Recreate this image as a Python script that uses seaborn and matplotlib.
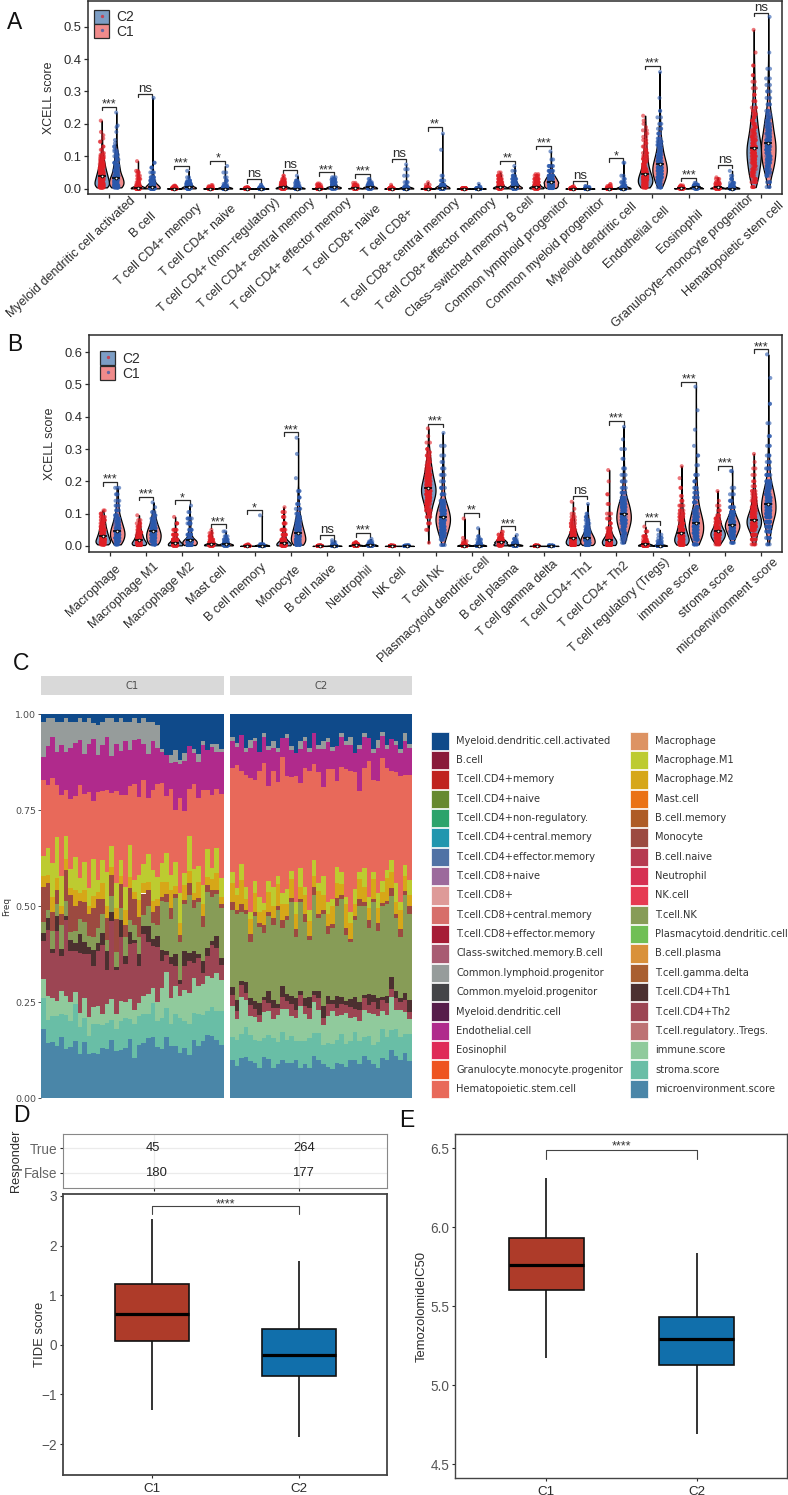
import numpy as np
import pandas as pd
import matplotlib
matplotlib.use("Agg")
import matplotlib.pyplot as plt
from matplotlib.patches import Patch
from matplotlib.lines import Line2D
from matplotlib.legend_handler import HandlerTuple
from matplotlib.textpath import TextPath
from matplotlib.font_manager import FontProperties
from matplotlib.transforms import ScaledTranslation
from matplotlib.ticker import FormatStrFormatter
import seaborn as sns

W, H = 788, 1495


def r(values, counts):
    # values, with how many dots sit around each level
    return np.repeat(values, counts).tolist()


# panel A
a_cells = ["Myeloid dendritic cell activated", "B cell", "T cell CD4+ memory", "T cell CD4+ naive",
           "T cell CD4+ (non\u2212regulatory)", "T cell CD4+ central memory", "T cell CD4+ effector memory",
           "T cell CD8+ naive", "T cell CD8+", "T cell CD8+ central memory", "T cell CD8+ effector memory",
           "Class\u2212switched memory B cell", "Common lymphoid progenitor", "Common myeloid progenitor",
           "Myeloid dendritic cell", "Endothelial cell", "Eosinophil", "Granulocyte\u2212monocyte progenitor",
           "Hematopoietic stem cell"]
a_c1 = [
    r([.004, .01, .016, .022, .028, .034, .04, .046, .052, .058, .064, .07, .076, .082, .088, .094, .1, .105, .11, .12, .13, .145, .155, .165, .175, .21],
      [16, 16, 15, 14, 13, 12, 11, 10, 9, 8, 7, 6, 6, 5, 4, 4, 3, 2, 2, 2, 2, 2, 1, 1, 1, 1]),
    r([.001, .005, .012, .02, .03, .04, .05, .055, .085], [50, 16, 10, 7, 5, 4, 3, 2, 1]),
    r([.0005, .002, .004, .006, .009], [50, 15, 8, 5, 3]),
    r([.0005, .002, .004, .007, .011], [50, 12, 6, 4, 2]),
    r([.0002, .001, .003, .005], [50, 10, 4, 2]),
    r([.001, .005, .01, .015, .02, .025, .03, .04], [40, 22, 16, 12, 9, 6, 4, 2]),
    r([.0005, .003, .007, .012, .016], [50, 12, 6, 3, 2]),
    r([.001, .004, .008, .012, .018], [40, 15, 10, 6, 2]),
    r([.0003, .002, .006, .012], [60, 8, 3, 1]),
    r([.0003, .002, .006, .012, .02], [60, 8, 4, 2, 1]),
    r([.0002, .001, .002], [60, 8, 2]),
    r([.001, .005, .012, .02, .03, .04, .05], [35, 25, 18, 12, 9, 5, 2]),
    r([.001, .005, .012, .02, .03, .04, .045], [30, 30, 22, 15, 10, 5, 2]),
    r([.0003, .002, .005, .008], [50, 10, 4, 1]),
    r([.0003, .003, .008, .014], [50, 8, 4, 2]),
    r([.004, .012, .02, .028, .036, .044, .052, .06, .068, .076, .084, .092, .1, .11, .12, .13, .14, .15, .16, .17, .18, .19, .2, .21, .225],
      [12, 16, 16, 16, 14, 12, 10, 8, 7, 6, 5, 5, 5, 5, 4, 3, 3, 3, 2, 2, 2, 1, 1, 1, 1]),
    r([.001, .003, .006, .01], [40, 20, 8, 3]),
    r([.001, .005, .01, .015, .02, .03, .035], [40, 18, 10, 7, 5, 3, 1]),
    r([.005, .02, .03, .04, .05, .06, .07, .08, .09, .1, .11, .12, .13, .14, .15, .16, .17, .18, .19, .2, .21, .22, .23, .24, .25, .27, .29, .31, .33, .35, .38, .42, .49],
      [4, 5, 6, 6, 7, 7, 8, 9, 9, 9, 10, 10, 10, 9, 8, 7, 6, 6, 5, 5, 4, 4, 4, 3, 3, 3, 3, 2, 2, 2, 2, 1, 1]),
]
a_c2 = [
    r([.004, .01, .016, .022, .028, .034, .04, .048, .056, .064, .072, .08, .09, .1, .105, .11, .115, .12, .13, .14, .15, .175, .19, .195, .235],
      [14, 14, 13, 12, 12, 11, 10, 9, 8, 7, 7, 6, 5, 5, 2, 2, 2, 2, 2, 1, 1, 1, 1, 1, 1]),
    r([.001, .006, .015, .025, .035, .05, .065, .08, .28], [45, 30, 15, 10, 8, 5, 3, 2, 1]),
    r([.001, .005, .01, .015, .02, .025, .035, .055], [35, 30, 20, 12, 8, 5, 2, 1]),
    r([.0005, .003, .008, .015, .025, .035, .05, .07], [50, 18, 8, 4, 3, 2, 2, 1]),
    r([.0003, .002, .006, .012], [50, 8, 3, 2]),
    r([.0005, .004, .01, .018, .025, .04], [40, 18, 10, 6, 4, 1]),
    r([.001, .005, .012, .02, .028, .035], [25, 30, 16, 10, 8, 3]),
    r([.001, .005, .01, .015, .02, .03], [30, 25, 15, 10, 6, 2]),
    r([.0005, .003, .008, .02, .04, .06, .075], [60, 10, 5, 4, 2, 2, 1]),
    r([.001, .005, .012, .025, .04, .12, .17], [60, 15, 8, 4, 2, 1, 1]),
    r([.0003, .002, .006, .015], [60, 8, 3, 1]),
    r([.001, .005, .012, .02, .03, .04, .055, .07], [30, 30, 22, 14, 9, 5, 2, 1]),
    r([.002, .01, .02, .03, .04, .055, .07, .09, .115], [20, 30, 35, 26, 18, 10, 5, 2, 1]),
    r([.0003, .002, .005, .008], [50, 10, 4, 2]),
    r([.0005, .004, .01, .02, .03, .04, .08], [55, 15, 8, 5, 3, 2, 2]),
    r([.004, .015, .025, .035, .045, .055, .065, .075, .085, .095, .105, .115, .125, .135, .145, .155, .17, .185, .2, .22, .24, .28, .36],
      [6, 9, 12, 15, 16, 18, 18, 16, 14, 12, 10, 8, 7, 6, 5, 4, 4, 3, 3, 2, 2, 1, 1]),
    r([.001, .004, .008, .012, .018], [25, 20, 14, 8, 2]),
    r([.0005, .004, .01, .018, .03, .04, .055], [45, 20, 10, 6, 4, 2, 1]),
    r([.005, .02, .04, .05, .06, .07, .08, .09, .1, .11, .12, .13, .14, .15, .16, .17, .18, .19, .2, .21, .22, .23, .24, .26, .28, .3, .32, .34, .37, .42, .53],
      [3, 4, 5, 6, 7, 8, 9, 10, 10, 10, 11, 11, 11, 10, 9, 8, 7, 7, 6, 6, 5, 4, 4, 4, 3, 3, 2, 2, 2, 1, 1]),
]
a_sig = ["***", "ns", "***", "*", "ns", "ns", "***", "***", "ns", "**", "", "**", "***", "ns", "*", "***", "***", "ns", "ns"]
a_top = [.252, .293, .071, .086, .029, .058, .051, .045, .092, .19, 0, .086, .132, .024, .094, .379, .034, .073, .543]

# panel B
b_cells = ["Macrophage", "Macrophage M1", "Macrophage M2", "Mast cell", "B cell memory", "Monocyte", "B cell naive",
           "Neutrophil", "NK cell", "T cell NK", "Plasmacytoid dendritic cell", "B cell plasma", "T cell gamma delta",
           "T cell CD4+ Th1", "T cell CD4+ Th2", "T cell regulatory (Tregs)", "immune score", "stroma score",
           "microenvironment score"]
b_c1 = [
    r([.005, .012, .02, .03, .04, .05, .06, .07, .08, .09, .1, .11], [16, 18, 20, 18, 14, 12, 9, 8, 6, 5, 3, 2]),
    r([.003, .01, .018, .026, .034, .042, .05, .06, .07, .08, .095], [20, 22, 16, 12, 10, 8, 6, 5, 4, 2, 1]),
    r([.002, .01, .02, .035, .05, .07, .09], [35, 30, 20, 10, 6, 3, 1]),
    r([.002, .006, .012, .02, .03, .04, .05], [35, 25, 15, 10, 6, 3, 1]),
    r([.0003, .002, .005], [60, 6, 2]),
    r([.002, .01, .02, .035, .05, .07, .09, .105, .12], [45, 30, 16, 12, 9, 6, 4, 3, 1]),
    r([.0002, .001, .003], [60, 6, 1]),
    r([.001, .003, .006, .009, .012], [30, 25, 14, 7, 2]),
    r([.0002, .001, .002], [60, 6, 1]),
    r([.01, .05, .07, .09, .1, .11, .12, .13, .14, .15, .16, .17, .18, .19, .2, .21, .22, .23, .24, .25, .26, .27, .28, .29, .3, .32, .34, .364],
      [1, 2, 3, 4, 5, 6, 7, 9, 11, 13, 15, 16, 16, 14, 12, 11, 9, 8, 7, 6, 5, 4, 4, 3, 3, 2, 1, 1]),
    r([.0005, .003, .008, .015, .025, .085], [55, 10, 6, 3, 1, 1]),
    r([.002, .006, .012, .018, .025, .035, .044], [20, 22, 25, 18, 10, 5, 2]),
    r([.0002, .001, .003], [60, 6, 1]),
    r([.003, .01, .018, .026, .034, .042, .05, .06, .07, .08, .09, .1, .115, .137], [18, 22, 20, 16, 12, 10, 8, 6, 5, 4, 3, 2, 1, 1]),
    r([.003, .01, .018, .026, .035, .045, .055, .07, .085, .1, .13, .16, .2, .235], [22, 24, 18, 12, 8, 6, 5, 4, 3, 3, 2, 2, 1, 1]),
    r([.001, .005, .012, .02, .03, .045, .06], [40, 22, 12, 8, 6, 3, 1]),
    r([.004, .012, .02, .03, .04, .05, .06, .07, .08, .09, .1, .11, .125, .14, .155, .18, .21, .247],
      [14, 20, 20, 18, 16, 12, 10, 9, 7, 6, 5, 4, 4, 3, 2, 2, 1, 1]),
    r([.005, .015, .025, .035, .045, .055, .065, .075, .085, .095, .11, .125, .14, .17], [6, 12, 18, 22, 20, 14, 10, 8, 6, 4, 3, 2, 1, 1]),
    r([.005, .02, .035, .05, .06, .07, .08, .09, .1, .11, .12, .13, .14, .15, .16, .17, .185, .2, .22, .24, .26, .285],
      [5, 8, 12, 15, 18, 20, 20, 18, 14, 11, 8, 7, 6, 5, 4, 4, 3, 3, 2, 2, 1, 1]),
]
b_c2 = [
    r([.005, .015, .025, .035, .045, .055, .065, .075, .085, .095, .11, .125, .14, .16, .18], [8, 12, 14, 16, 15, 13, 11, 9, 7, 6, 5, 4, 3, 3, 3]),
    r([.005, .015, .025, .035, .045, .055, .065, .075, .085, .095, .105, .12, .135], [10, 14, 15, 16, 14, 12, 9, 7, 5, 4, 3, 1, 1]),
    r([.003, .012, .02, .035, .05, .07, .085, .105, .125], [30, 30, 24, 14, 8, 8, 5, 2, 1]),
    r([.002, .006, .012, .02, .03, .045], [35, 28, 14, 8, 4, 2]),
    r([.0005, .003, .006, .095], [60, 10, 3, 1]),
    r([.004, .012, .02, .03, .04, .05, .06, .07, .08, .09, .1, .115, .13, .15, .17, .21, .285, .335],
      [14, 18, 18, 18, 16, 14, 11, 9, 8, 6, 5, 4, 4, 3, 3, 1, 1, 1]),
    r([.0003, .002, .006, .012, .018], [60, 10, 4, 2, 1]),
    r([.001, .004, .008, .014, .022], [30, 22, 10, 4, 1]),
    r([.0002, .001, .003], [60, 6, 1]),
    r([.003, .02, .03, .04, .05, .06, .07, .08, .09, .1, .11, .12, .13, .14, .16, .18, .2, .22, .24, .26, .28, .31, .35],
      [4, 6, 8, 10, 12, 14, 16, 17, 17, 15, 13, 11, 9, 8, 6, 5, 4, 4, 3, 2, 2, 2, 1]),
    r([.0005, .004, .01, .02, .03, .055], [50, 15, 8, 5, 2, 1]),
    r([.001, .004, .009, .015, .022, .034], [32, 28, 15, 8, 4, 1]),
    r([.0002, .001, .003], [60, 6, 1]),
    r([.003, .01, .018, .026, .034, .042, .05, .06, .07, .08, .09, .1, .13], [16, 20, 20, 18, 14, 10, 8, 6, 5, 4, 3, 2, 1]),
    r([.01, .02, .03, .04, .05, .06, .07, .08, .09, .1, .11, .12, .13, .14, .15, .165, .18, .2, .22, .24, .27, .3, .33, .369],
      [3, 4, 6, 8, 10, 12, 14, 16, 16, 15, 14, 13, 11, 9, 7, 6, 5, 4, 3, 3, 2, 2, 1, 1]),
    r([.0005, .003, .008, .015, .025, .035, .05], [50, 20, 8, 5, 3, 2, 1]),
    r([.005, .02, .03, .04, .05, .06, .07, .08, .09, .1, .11, .12, .135, .15, .165, .18, .2, .22, .25, .28, .31, .36, .42, .493],
      [8, 12, 14, 15, 16, 16, 16, 14, 12, 10, 9, 8, 7, 6, 5, 4, 3, 3, 2, 2, 1, 1, 1, 1]),
    r([.01, .025, .035, .045, .055, .065, .075, .085, .095, .105, .12, .14, .16, .18, .232], [5, 9, 12, 16, 20, 22, 18, 14, 10, 8, 6, 4, 3, 2, 2]),
    r([.005, .025, .045, .06, .075, .09, .1, .11, .12, .13, .14, .15, .16, .17, .18, .19, .2, .22, .24, .26, .28, .31, .34, .38, .44, .52, .593],
      [3, 6, 9, 12, 15, 18, 18, 18, 18, 18, 17, 16, 14, 12, 10, 9, 8, 8, 6, 5, 4, 3, 3, 2, 2, 1, 1]),
]
b_sig = ["***", "***", "*", "***", "*", "***", "ns", "***", "", "***", "**", "***", "", "ns", "***", "***", "***", "***", "***"]
b_top = [.199, .153, .142, .067, .111, .352, .035, .041, 0, .379, .102, .061, 0, .156, .387, .078, .508, .248, .609]

# panel C: the legend, then the bands that can be told apart in the stack (% of a column, coarse)
legend_left = ["Myeloid.dendritic.cell.activated", "B.cell", "T.cell.CD4+memory", "T.cell.CD4+naive",
               "T.cell.CD4+non-regulatory.", "T.cell.CD4+central.memory", "T.cell.CD4+effector.memory",
               "T.cell.CD8+naive", "T.cell.CD8+", "T.cell.CD8+central.memory", "T.cell.CD8+effector.memory",
               "Class-switched.memory.B.cell", "Common.lymphoid.progenitor", "Common.myeloid.progenitor",
               "Myeloid.dendritic.cell", "Endothelial.cell", "Eosinophil", "Granulocyte.monocyte.progenitor",
               "Hematopoietic.stem.cell"]
colors_left = ["#0F4A8A", "#8A1A3A", "#C0241F", "#66892F", "#2CA36B", "#2196AE", "#5072A5", "#9C6A9C", "#DE9A98",
               "#D76E6A", "#A61C36", "#A85B72", "#969C9B", "#444548", "#561C4A", "#B02A8C", "#DF2A58", "#EE5420",
               "#E8695A"]
legend_right = ["Macrophage", "Macrophage.M1", "Macrophage.M2", "Mast.cell", "B.cell.memory", "Monocyte", "B.cell.naive",
                "Neutrophil", "NK.cell", "T.cell.NK", "Plasmacytoid.dendritic.cell", "B.cell.plasma",
                "T.cell.gamma.delta", "T.cell.CD4+Th1", "T.cell.CD4+Th2", "T.cell.regulatory..Tregs.", "immune.score",
                "stroma.score", "microenvironment.score"]
colors_right = ["#DD9363", "#BDCB30", "#D6A718", "#EA7216", "#AE5C26", "#9C4A40", "#B63A50", "#D63052", "#E63A52",
                "#879C57", "#70BF55", "#D9913A", "#A95F30", "#4C3030", "#9C4553", "#BD7274", "#90CA9C", "#69BEA6",
                "#4A86A8"]
bands = ["Myeloid.dendritic.cell.activated", "Common.lymphoid.progenitor", "Endothelial.cell",
         "Hematopoietic.stem.cell", "Macrophage.M1", "Macrophage.M2", "Monocyte", "T.cell.NK", "T.cell.CD4+Th1",
         "T.cell.CD4+Th2", "immune.score", "stroma.score", "microenvironment.score"]
c1_navy = [2, 1, 1, 2, 2, 1, 2, 2, 1, 2, 1, 2, 3, 2, 1, 1, 2, 1, 2, 2, 1, 2, 1, 2, 2, 3, 9, 10, 11, 9, 12, 10, 8, 9, 10, 7, 9, 8, 7, 9]
c1_gray = [9, 7, 5, 8, 6, 9, 7, 5, 6, 8, 7, 4, 8, 6, 5, 9, 6, 8, 5, 7, 6, 4, 7, 8, 5, 6, 1, 0, 2, 3, 1, 2, 0, 1, 2, 1, 0, 1, 2, 1]
c1_magenta = [6, 10, 11, 9, 13, 10, 14, 13, 12, 10, 13, 15, 10, 12, 14, 9, 13, 11, 14, 9, 12, 14, 10, 11, 13, 10, 8, 10, 7, 12, 9, 13, 11, 8, 9, 12, 10, 13, 9, 11]
c1_hemat = [20, 16, 23, 14, 21, 12, 19, 15, 25, 17, 26, 14, 24, 18, 22, 13, 25, 16, 24, 15, 26, 19, 23, 14, 21, 25, 21, 14, 23, 13, 25, 16, 12, 22, 17, 25, 15, 20, 14, 22]
c1_m1 = [5, 7, 9, 11, 8, 6, 5, 8, 4, 7, 5, 9, 3, 6, 9, 5, 7, 4, 6, 8, 3, 6, 5, 7, 8, 6, 5, 7, 4, 6, 8, 3, 9, 6, 4, 5, 7, 3, 6, 5]
c1_m2 = [3, 2, 4, 3, 2, 3, 2, 4, 2, 3, 2, 3, 2, 4, 3, 2, 3, 2, 4, 3, 2, 4, 3, 2, 3, 2, 4, 3, 5, 2, 3, 4, 3, 2, 4, 3, 2, 3, 4, 2]
c1_mono = [9, 7, 5, 4, 3, 8, 10, 6, 5, 5, 6, 7, 8, 4, 6, 5, 9, 6, 3, 8, 7, 5, 6, 4, 3, 5, 1, 2, 3, 1, 2, 1, 3, 2, 1, 3, 2, 2, 1, 1]
c1_tnk = [3, 2, 5, 3, 6, 4, 2, 3, 4, 5, 3, 3, 4, 5, 3, 4, 4, 3, 5, 3, 4, 4, 3, 5, 4, 3, 13, 12, 10, 14, 10, 12, 15, 11, 13, 9, 14, 12, 10, 13]
c1_th1 = [2, 3, 1, 4, 2, 1, 3, 2, 5, 3, 2, 4, 2, 3, 5, 2, 1, 4, 2, 3, 1, 3, 2, 4, 2, 3, 3, 1, 2, 3, 1, 4, 2, 3, 1, 3, 2, 1, 3, 2]
c1_th2 = [10, 17, 12, 19, 9, 20, 14, 10, 16, 11, 17, 10, 15, 18, 9, 19, 12, 16, 10, 14, 18, 9, 17, 13, 11, 15, 7, 4, 9, 5, 3, 6, 8, 4, 7, 3, 5, 9, 6, 4]
c1_immune = [5, 6, 5, 4, 6, 5, 5, 3, 4, 5, 5, 4, 5, 3, 5, 5, 4, 5, 4, 5, 4, 3, 5, 5, 4, 5, 8, 9, 7, 7, 6, 8, 8, 9, 7, 8, 9, 8, 9, 8]
c1_stroma = [8, 6, 7, 8, 6, 9, 7, 9, 7, 6, 5, 7, 8, 6, 7, 5, 6, 7, 8, 5, 9, 7, 8, 6, 9, 7, 8, 7, 6, 8, 9, 7, 8, 7, 8, 7, 6, 8, 7, 9]
c1_micro = [18, 14, 15, 14, 16, 13, 14, 14, 12, 14, 12, 11, 12, 13, 13, 14, 13, 12, 13, 15, 11, 13, 15, 15, 16, 14, 13, 15, 14, 13, 12, 13, 11, 15, 13, 15, 16, 17, 14, 14]
c2_navy = [6, 8, 5, 9, 7, 6, 10, 5, 8, 7, 9, 6, 5, 8, 10, 7, 6, 9, 5, 8, 7, 6, 9, 8, 5, 7, 6, 10, 8, 5, 6, 9, 7, 5, 8, 6, 7, 9, 5, 8]
c2_gray = [1, 1, 0, 1, 2, 1, 0, 1, 1, 2, 1, 0, 1, 1, 0, 2, 1, 1, 0, 1, 2, 1, 1, 0, 1, 1, 2, 0, 1, 1, 0, 1, 2, 1, 1, 0, 1, 1, 2, 1]
c2_magenta = [7, 5, 9, 6, 8, 10, 5, 7, 9, 6, 8, 5, 10, 7, 6, 9, 7, 5, 8, 6, 10, 7, 5, 9, 8, 6, 7, 5, 11, 8, 6, 7, 9, 6, 5, 8, 7, 6, 9, 7]
c2_hemat = [27, 34, 23, 30, 36, 26, 33, 37, 24, 31, 25, 35, 29, 24, 33, 22, 31, 37, 25, 29, 23, 34, 36, 22, 28, 33, 37, 30, 21, 26, 35, 24, 30, 34, 27, 22, 29, 33, 24, 28]
c2_m1 = [3, 2, 4, 3, 2, 3, 4, 2, 3, 5, 2, 3, 4, 2, 3, 5, 2, 3, 4, 2, 5, 3, 2, 4, 3, 2, 3, 4, 2, 5, 3, 2, 4, 3, 2, 3, 5, 2, 3, 4]
c2_m2 = [5, 4, 6, 3, 4, 5, 3, 4, 5, 3, 6, 4, 3, 5, 4, 3, 5, 4, 3, 6, 4, 3, 5, 4, 3, 6, 4, 3, 5, 4, 3, 5, 4, 3, 6, 4, 3, 5, 4, 3]
c2_mono = [2, 1, 2, 1, 2, 1, 1, 2, 1, 2, 1, 2, 1, 1, 2, 1, 2, 1, 2, 1, 1, 2, 1, 2, 1, 2, 1, 1, 2, 1, 2, 1, 2, 1, 1, 2, 1, 2, 1, 2]
c2_tnk = [20, 24, 17, 18, 15, 22, 20, 17, 19, 20, 25, 15, 19, 24, 16, 23, 20, 15, 25, 19, 24, 16, 20, 23, 26, 17, 15, 20, 25, 23, 17, 24, 18, 25, 24, 20, 19, 16, 26, 23]
c2_th1 = [2, 3, 1, 3, 2, 2, 3, 1, 3, 2, 1, 3, 2, 2, 3, 1, 2, 3, 1, 2, 3, 2, 1, 3, 2, 1, 2, 3, 2, 1, 3, 2, 3, 1, 2, 3, 2, 1, 2, 3]
c2_th2 = [3, 2, 3, 2, 3, 2, 2, 3, 2, 3, 2, 3, 2, 3, 2, 3, 2, 3, 2, 3, 2, 3, 2, 2, 3, 2, 3, 2, 3, 3, 2, 3, 2, 3, 3, 2, 3, 2, 3, 2]
c2_immune = [8, 6, 9, 7, 5, 6, 5, 7, 6, 5, 7, 6, 8, 5, 6, 9, 7, 5, 8, 6, 5, 7, 9, 6, 5, 8, 6, 4, 5, 7, 6, 8, 7, 5, 6, 8, 5, 7, 6, 4]
c2_stroma = [6, 7, 6, 8, 7, 6, 7, 5, 6, 8, 6, 7, 6, 7, 5, 7, 6, 8, 6, 7, 5, 6, 7, 6, 8, 6, 5, 7, 6, 5, 6, 5, 7, 8, 6, 5, 7, 6, 5, 7]
c2_micro = [10, 9, 10, 11, 10, 9, 8, 11, 10, 8, 9, 10, 9, 9, 10, 8, 9, 8, 11, 10, 9, 8, 8, 9, 9, 8, 10, 10, 9, 11, 10, 9, 8, 11, 10, 12, 11, 10, 12, 10]
c1_stack = [c1_navy, c1_gray, c1_magenta, c1_hemat, c1_m1, c1_m2, c1_mono, c1_tnk, c1_th1, c1_th2, c1_immune, c1_stroma, c1_micro]
c2_stack = [c2_navy, c2_gray, c2_magenta, c2_hemat, c2_m1, c2_m2, c2_mono, c2_tnk, c2_th1, c2_th2, c2_immune, c2_stroma, c2_micro]

# panels D and E: whisker end, lower quartile, median, upper quartile, whisker end
groups = ["C1", "C2"]
tide_c1 = [-1.31, .08, .62, 1.22, 2.54]
tide_c2 = [-1.85, -.63, -.2, .32, 1.69]
tmz_c1 = [5.17, 5.6, 5.76, 5.93, 6.31]
tmz_c2 = [4.69, 5.13, 5.29, 5.43, 5.84]
resp_rows = ["False", "True"]
resp_true = [45, 264]
resp_false = [180, 177]

RED, BLUE = "#E01F26", "#2A58AC"
FILL_BLUE, FILL_RED = "#7C9DC4", "#F08B8B"
DARK = "#2B2B2B"

sns.set_theme(style="white")
plt.rcParams["font.family"] = ["Liberation Sans", "DejaVu Sans"]
np.random.seed(3)

fig = plt.figure(figsize=(W / 100, H / 100), dpi=100)


def px_axes(x0, y0, x1, y1):
    return fig.add_axes([x0 / W, 1 - y1 / H, (x1 - x0) / W, (y1 - y0) / H])


def long_table(cells, c1, c2):
    rows = []
    for name, v1, v2 in zip(cells, c1, c2):
        rows += [(name, "C1", v) for v in v1] + [(name, "C2", v) for v in v2]
    return pd.DataFrame(rows, columns=["cell", "cluster", "score"])


def violin_panel(ax, cells, c1, c2, sig, top, ylim, ticks, leg_anchor, label_shift):
    df = long_table(cells, c1, c2)
    kw = dict(x="cell", y="score", hue="cluster", order=cells, hue_order=groups, ax=ax, legend=False)
    sns.violinplot(data=df, palette={"C1": FILL_BLUE, "C2": FILL_RED}, density_norm="width", cut=0, inner=None,
                   linewidth=0.9, linecolor="black", bw_adjust=0.7, width=0.8, gap=0, saturation=1, **kw)
    sns.stripplot(data=df, palette={"C1": RED, "C2": BLUE}, dodge=True, jitter=0.125, size=2.9, alpha=0.6,
                  linewidth=0, **kw)
    med = df.groupby(["cell", "cluster"], sort=False)["score"].median().reset_index()
    sns.stripplot(data=med, palette={"C1": "black", "C2": "black"}, dodge=True, jitter=False, marker="_", size=6,
                  linewidth=1.1, **kw)
    sns.stripplot(data=med, palette={"C1": "white", "C2": "white"}, dodge=True, jitter=False, size=2,
                  edgecolor="black", linewidth=0.6, **kw)
    for i, (label, y) in enumerate(zip(sig, top)):
        if not label:
            continue
        leg = (ylim[1] - ylim[0]) * 0.018
        ax.plot([i - 0.2, i - 0.2, i + 0.2, i + 0.2], [y - leg, y, y, y - leg], color=DARK, lw=0.9)
        if label == "ns":
            ax.annotate(label, (i, y), xytext=(0, 1.4), textcoords="offset points", ha="center", va="baseline",
                        fontsize=9.6, color=DARK)
        else:
            ax.annotate(label, (i, y), xytext=(0, -0.6), textcoords="offset points", ha="center", va="baseline",
                        fontsize=9, color=DARK)
    ax.set_xlim(-0.58, len(cells) - 0.42)
    ax.set_ylim(*ylim)
    ax.set_yticks(ticks)
    ax.yaxis.set_major_formatter(FormatStrFormatter("%.1f"))
    ax.set_xlabel("")
    ax.set_ylabel("XCELL score", fontsize=8.9, color=DARK, labelpad=6)
    ax.tick_params(axis="both", length=2.6, width=0.9, color=DARK, left=True, bottom=True)
    ax.tick_params(axis="y", labelsize=9.4, labelcolor=DARK, pad=2)
    ax.set_xticks(range(len(cells)), cells, rotation=43, ha="right", rotation_mode="anchor", fontsize=9, color=DARK)
    ax.tick_params(axis="x", pad=0)
    # the labels are anchored part of the way along their length, not at their end
    base_x, drop, frac = label_shift
    font = FontProperties(family="Liberation Sans", size=9)
    for tick_label, name in zip(ax.get_xticklabels(), cells):
        length = TextPath((0, 0), name, prop=font).get_extents().width * 100 / 72
        along = frac * length * 0.707
        shift = ScaledTranslation((base_x + along) / 100, (along - drop + 3.6) / 100, fig.dpi_scale_trans)
        tick_label.set_transform(tick_label.get_transform() + shift)
    for s in ax.spines.values():
        s.set_linewidth(1.1)
        s.set_edgecolor(DARK)
    swatch = lambda fill, dot: (Patch(facecolor=fill, edgecolor=DARK, linewidth=0.9),
                                Line2D([], [], marker="o", ls="", ms=2.4, mfc=dot, mec="none", alpha=0.7))
    ax.legend([swatch(FILL_BLUE, RED), swatch(FILL_RED, BLUE)], ["C2", "C1"], loc="upper left",
              bbox_to_anchor=leg_anchor, frameon=False, fontsize=10, handlelength=1.1, handleheight=1.16,
              labelspacing=0.0, handletextpad=0.5, borderpad=0, borderaxespad=0,
              handler_map={tuple: HandlerTuple(ndivide=1, pad=0)}, labelcolor=DARK)


# A and B
ax_a = px_axes(88, 1, 782, 194)
violin_panel(ax_a, a_cells, a_c1, a_c2, a_sig, a_top, (-0.0164, 0.579), [0, .1, .2, .3, .4, .5], (0.0085, 0.955),
             (2, 20, 0.16))
ax_b = px_axes(89, 335, 782, 552)
violin_panel(ax_b, b_cells, b_c1, b_c2, b_sig, b_top, (-0.0186, 0.653), [0, .1, .2, .3, .4, .5, .6], (0.016, 0.925),
             (-2, 17, 0.14))


# C
palette = dict(zip(legend_left + legend_right, colors_left + colors_right))
TICK_FONT = ["DejaVu Sans"]
for name, stack, (x0, x1) in zip(groups, [c1_stack, c2_stack], [(41, 223.5), (230, 412)]):
    strip = px_axes(x0, 676, x1, 695)
    strip.set_facecolor("#D9D9D9")
    strip.set_xticks([])
    strip.set_yticks([])
    for s in strip.spines.values():
        s.set_visible(False)
    strip.text(0.5, 0.47, name, transform=strip.transAxes, ha="center", va="center", fontsize=7.2,
               color="#4D4D4D", family=TICK_FONT)

    vals = np.array(stack, dtype=float)
    vals = vals / vals.sum(axis=0)
    df = pd.DataFrame({"sample": np.tile(np.arange(vals.shape[1]), len(bands)),
                       "band": np.repeat(bands, vals.shape[1]),
                       "Freq": vals.ravel()})
    ax = px_axes(x0, 714.3, x1, 1098.3)
    sns.histplot(data=df, x="sample", hue="band", weights="Freq", hue_order=bands, palette=palette, multiple="stack",
                 discrete=True, shrink=1, linewidth=0, edgecolor="none", alpha=1, antialiased=False, legend=False, ax=ax)
    ax.set_xlim(-0.5, vals.shape[1] - 0.5)
    ax.set_ylim(0, 1)
    ax.set_xlabel("")
    ax.set_xticks([])
    for s in ax.spines.values():
        s.set_visible(False)
    if name == "C1":
        ax.set_yticks([0, .25, .5, .75, 1], ["0.00", "0.25", "0.50", "0.75", "1.00"], fontsize=6.8, color="#4D4D4D",
                      family=TICK_FONT)
        ax.tick_params(axis="y", left=True, length=2.5, width=0.6, color="#333333", pad=1)
        ax.set_ylabel("Freq", fontsize=6.4, color="#333333", family=TICK_FONT, labelpad=3)
    else:
        ax.set_yticks([])
        ax.set_ylabel("")

for labels, colors, x in [(legend_left, colors_left, 431), (legend_right, colors_right, 630)]:
    handles = [Patch(facecolor=c, edgecolor="white", linewidth=0.5) for c in colors]
    fig.legend(handles, labels, loc="upper left", bbox_to_anchor=(x / W, 1 - 731.5 / H), frameon=False,
               prop={"family": "DejaVu Sans", "size": 7.1}, labelcolor="#333333", handlelength=1.86, handleheight=2.48,
               labelspacing=0.105, handletextpad=0.68, borderpad=0, borderaxespad=0)


# D
def box_panel(ax, first, second, ylim, ticks, ylabel, top, leg, star_off, spine, ypad):
    df = pd.DataFrame({"group": np.repeat(groups, 5), "value": first + second})
    sns.boxplot(data=df, x="group", y="value", hue="group", order=groups, palette=["#AE3B29", "#116FAB"], saturation=1,
                width=0.5, whis=(0, 100), showcaps=False, linewidth=1.2, linecolor="#111111",
                medianprops={"linewidth": 2.3, "color": "#000000"}, legend=False, ax=ax)
    ax.plot([0, 0, 1, 1], [top - leg, top, top, top - leg], color="#444444", lw=0.8)
    ax.annotate("****", (0.5, top), xytext=(0, star_off), textcoords="offset points", ha="center", va="baseline",
                fontsize=9, color="#333333")
    ax.set_xlim(-0.605, 1.6)
    ax.set_ylim(*ylim)
    ax.set_yticks(ticks)
    ax.set_xlabel("")
    ax.set_ylabel(ylabel, fontsize=9.4, color=DARK, labelpad=ypad)
    ax.tick_params(axis="both", length=2.4, width=0.8, color=DARK, left=True, bottom=True)
    ax.tick_params(axis="y", labelsize=9.8, labelcolor="#555555", pad=2)
    ax.tick_params(axis="x", labelsize=9.6, labelcolor=DARK, pad=3)
    for s in ax.spines.values():
        s.set_linewidth(spine)
        s.set_edgecolor("#444444")


ax_t = px_axes(63, 1134, 387, 1188)
ax_t.set_xlim(-0.605, 1.6)
ax_t.set_ylim(-0.62, 1.57)
for i, (t, f) in enumerate(zip(resp_true, resp_false)):
    ax_t.text(i + 0.03 * i + 0.01, 1, str(t), ha="center", va="center", fontsize=9.4, color="#222222")
    ax_t.text(i + 0.03, 0, str(f), ha="center", va="center", fontsize=9.4, color="#222222")
ax_t.set_xticks([0.015, 1], ["", ""])
ax_t.set_yticks([0, 1], resp_rows, fontsize=9.8, color="#666666")
ax_t.grid(True, color="#EBEBEB", lw=0.9)
ax_t.tick_params(axis="both", length=2, width=0.8, color=DARK, left=True, bottom=True, pad=2)
ax_t.set_ylabel("Responder", fontsize=9.2, color=DARK, labelpad=1.5)
for s in ax_t.spines.values():
    s.set_linewidth(0.8)
    s.set_edgecolor("#888888")

ax_d = px_axes(63, 1194, 387, 1475.3)
box_panel(ax_d, tide_c1, tide_c2, (-2.63, 3.04), [-2, -1, 0, 1, 2, 3], "TIDE score", 2.79, 0.16, -1, 1.3, -3)

# E
ax_e = px_axes(455.3, 1133.7, 787, 1478.3)
box_panel(ax_e, tmz_c1, tmz_c2, (4.41, 6.593), [4.5, 5, 5.5, 6, 6.5], "TemozolomideIC50", 6.49, 0.06, 0.5, 1, 2)

for letter, x, y in [("A", 7, 29), ("B", 7, 351), ("C", 13, 670), ("D", 13, 1122), ("E", 399, 1127)]:
    fig.text(x / W, 1 - y / H, letter, fontsize=16.5, color="#111111", va="baseline")

fig.savefig("out.png", dpi=100)
